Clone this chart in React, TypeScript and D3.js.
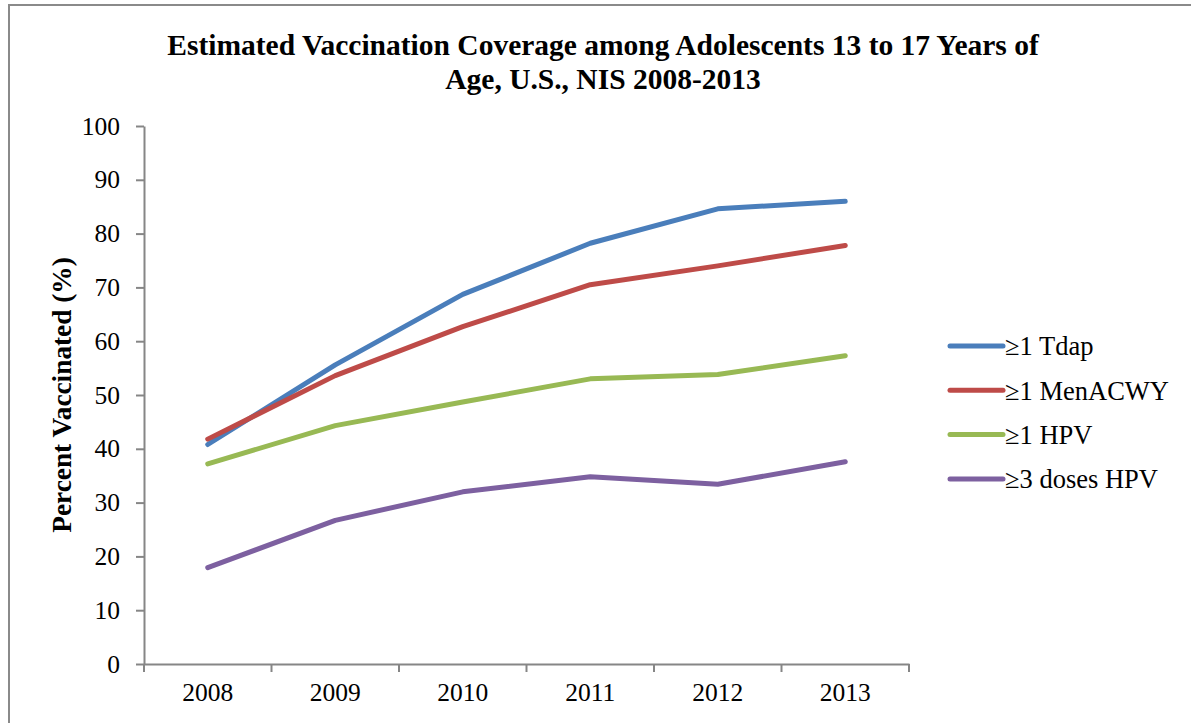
import { useEffect, useRef } from "react";
import * as d3 from "d3";

const years = ["2008", "2009", "2010", "2011", "2012", "2013"];
const seriesNames = ["≥1 Tdap", "≥1 MenACWY", "≥1 HPV", "≥3 doses HPV"];
const tdap = [40.8, 55.6, 68.7, 78.2, 84.6, 86.0];
const menacwy = [41.8, 53.6, 62.7, 70.5, 74.0, 77.8];
const hpv1 = [37.2, 44.3, 48.7, 53.0, 53.8, 57.3];
const hpv3 = [17.9, 26.7, 32.0, 34.8, 33.4, 37.6];
const yTicks = [0, 10, 20, 30, 40, 50, 60, 70, 80, 90, 100];
const colors = ["#4a7ebb", "#be4b48", "#98b954", "#7d60a0"];

export default function App() {
  const ref = useRef<SVGSVGElement>(null);

  useEffect(() => {
    const svg = d3.select(ref.current);
    svg.selectAll("*").remove();

    const font = "'Liberation Serif', 'Times New Roman', serif";
    const axisColor = "#868686";

    const x = d3.scaleBand().domain(years).range([144, 909]);
    const y = d3.scaleLinear().domain([0, 100]).range([664, 126]);

    svg
      .append("rect")
      .attr("x", 9)
      .attr("y", 5)
      .attr("width", 1300)
      .attr("height", 900)
      .attr("fill", "white")
      .attr("stroke", "#8a8a8a")
      .attr("stroke-width", 2);

    // title
    const title = svg
      .append("text")
      .attr("text-anchor", "middle")
      .attr("font-family", font)
      .attr("font-weight", "bold")
      .attr("font-size", 29.5);
    title.append("tspan").attr("x", 603).attr("y", 55).text("Estimated Vaccination Coverage among Adolescents 13 to 17 Years of");
    title.append("tspan").attr("x", 603).attr("y", 89).text("Age, U.S., NIS 2008-2013");

    // y axis
    const yAxis = svg
      .append("g")
      .attr("transform", "translate(144,0)")
      .call(d3.axisLeft(y).tickValues(yTicks).tickSize(8).tickSizeOuter(0).tickPadding(16));
    yAxis.select(".domain").attr("stroke", axisColor).attr("stroke-width", 2);
    yAxis.selectAll(".tick line").attr("stroke", axisColor).attr("stroke-width", 2);
    yAxis
      .selectAll(".tick text")
      .attr("font-family", font)
      .attr("font-size", 25.5)
      .attr("fill", "black");

    // x axis
    const xAxis = svg
      .append("g")
      .attr("transform", "translate(0,664)")
      .call(d3.axisBottom(x).tickSize(0).tickPadding(19));
    xAxis.select(".domain").attr("stroke", axisColor).attr("stroke-width", 2);
    xAxis
      .selectAll(".tick text")
      .attr("font-family", font)
      .attr("font-size", 25.5)
      .attr("fill", "black");
    const bounds = years.map((yr) => x(yr) as number).concat([909]);
    xAxis
      .selectAll(".bound")
      .data(bounds)
      .join("line")
      .attr("x1", (d) => d)
      .attr("x2", (d) => d)
      .attr("y1", 0)
      .attr("y2", 8)
      .attr("stroke", axisColor)
      .attr("stroke-width", 2);

    svg
      .append("text")
      .attr("transform", "translate(71,395) rotate(-90)")
      .attr("text-anchor", "middle")
      .attr("font-family", font)
      .attr("font-weight", "bold")
      .attr("font-size", 27.3)
      .text("Percent Vaccinated (%)");

    const allSeries = [tdap, menacwy, hpv1, hpv3];
    const line = d3
      .line<number>()
      .x((_, i) => (x(years[i]) as number) + x.bandwidth() / 2)
      .y((d) => y(d));

    svg
      .append("g")
      .selectAll("path")
      .data(allSeries)
      .join("path")
      .attr("d", (d) => line(d))
      .attr("fill", "none")
      .attr("stroke", (_, i) => colors[i])
      .attr("stroke-width", 5)
      .attr("stroke-linecap", "round")
      .attr("stroke-linejoin", "round");

    // legend
    const legend = svg
      .append("g")
      .selectAll("g")
      .data(seriesNames)
      .join("g")
      .attr("transform", (_, i) => `translate(948,${346 + i * 44.3})`);
    legend
      .append("line")
      .attr("x1", 2)
      .attr("x2", 55)
      .attr("stroke", (_, i) => colors[i])
      .attr("stroke-width", 5)
      .attr("stroke-linecap", "round");
    legend
      .append("text")
      .attr("x", 57)
      .attr("dy", "0.35em")
      .attr("font-family", font)
      .attr("font-size", 26.5)
      .text((d) => d);
  }, []);

  return (
    <svg
      ref={ref}
      width={1191}
      height={723}
      style={{ position: "absolute", left: 0, top: 0, display: "block" }}
    />
  );
}
